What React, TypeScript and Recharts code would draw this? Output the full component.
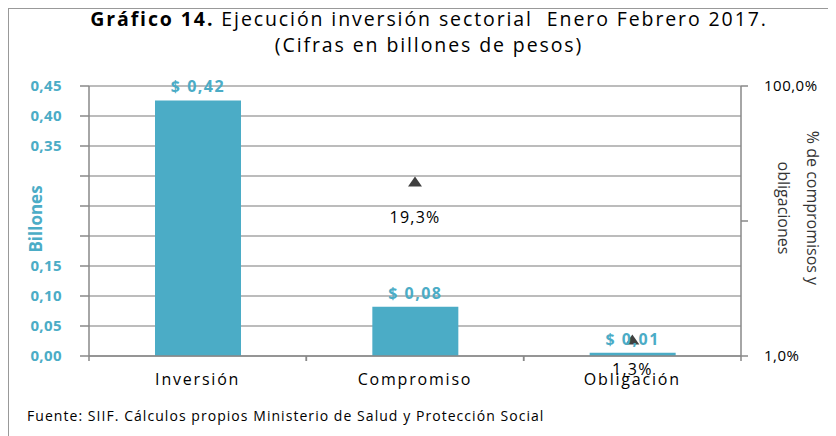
import React from "react";
import {
  ComposedChart,
  Bar,
  Line,
  XAxis,
  YAxis,
  CartesianGrid,
  LabelList,
} from "recharts";

const categories = ["Inversión", "Compromiso", "Obligación"];
const billones = [0.426, 0.082, 0.0055];
const billonesLabels = ["$ 0,42", "$ 0,08", "$ 0,01"];
const porcentajes: (number | null)[] = [null, 19.3, 1.3];
const porcentajeLabels = ["", "19,3%", "1,3%"];
const leftTicks = [0, 0.05, 0.1, 0.15, 0.2, 0.25, 0.3, 0.35, 0.4, 0.45];
const leftHiddenLabels = [0.2, 0.25, 0.3];
const rightTicks = [1, 10, 100];
const rightTickLabels: Record<number, string> = { 1: "1,0%", 10: "", 100: "100,0%" };

const data = categories.map((c, i) => ({
  name: c,
  valor: billones[i],
  valorLabel: billonesLabels[i],
  pct: porcentajes[i],
  pctLabel: porcentajeLabels[i],
}));

// label offsets below the triangle markers (styling, per category)
const PCT_LABEL_DY = [0, 41, 34];

const AQUA = "#4BACC6";
const FONT = "'Open Sans', 'DejaVu Sans', sans-serif";
const CHART_W = 828;
const CHART_H = 428;
const PLOT_LEFT = 80;
const PLOT_RIGHT = 732;
const BAND = (PLOT_RIGHT - PLOT_LEFT) / categories.length;

const fmtLeft = (v: number) => v.toFixed(2).replace(".", ",");

const LeftTick = (props: any) => {
  const { x, y, payload } = props;
  const v = payload.value;
  if (leftHiddenLabels.some((h) => Math.abs(h - v) < 1e-6)) return <g />;
  return (
    <text
      x={x - 16}
      y={y}
      dy={5}
      textAnchor="end"
      fill={AQUA}
      fontSize={15}
      fontWeight="bold"
      letterSpacing={0.4}
      fontFamily={FONT}
    >
      {fmtLeft(v)}
    </text>
  );
};

const RightTick = (props: any) => {
  const { x, y, payload } = props;
  const label = rightTickLabels[payload.value] ?? "";
  return (
    <text x={x + 14} y={y} dy={5} textAnchor="start" fill="#000" fontSize={15} letterSpacing={0.5} fontFamily={FONT}>
      {label}
    </text>
  );
};

const XTick = (props: any) => {
  const { x, y, payload } = props;
  return (
    <g>
      <line x1={x - BAND / 2} x2={x - BAND / 2} y1={y - 8} y2={y - 3} stroke="#888" strokeWidth={1.5} />
      <line x1={x + BAND / 2} x2={x + BAND / 2} y1={y - 8} y2={y - 3} stroke="#888" strokeWidth={1.5} />
      <text
        x={x}
        y={y}
        dy={21}
        textAnchor="middle"
        fill="#000"
        fontSize={16}
        letterSpacing={1.8}
        fontFamily={FONT}
      >
        {payload.value}
      </text>
    </g>
  );
};

const Triangle = (props: any) => {
  const { cx, cy, payload } = props;
  if (payload == null || payload.pct == null || cx == null || cy == null) return <g key={props.key} />;
  return (
    <path
      key={props.key}
      d={`M${cx},${cy - 6} L${cx + 7},${cy + 4} L${cx - 7},${cy + 4} Z`}
      fill="#404040"
    />
  );
};

const PctLabel = (props: any) => {
  const { x, y, value, index } = props;
  if (!value || x == null || y == null) return null;
  const dy = PCT_LABEL_DY[index] ?? 38;
  return (
    <text x={x} y={y + dy} textAnchor="middle" fill="#000" fontSize={16} fontFamily={FONT} letterSpacing={1.2}>
      {value}
    </text>
  );
};

export default function App() {
  return (
    <div
      style={{
        position: "relative",
        width: CHART_W,
        height: CHART_H,
        borderTop: "1.5px solid #999",
        borderLeft: "1.5px solid #999",
        boxSizing: "border-box",
        fontFamily: FONT,
        background: "#fff",
      }}
    >
      <div
        style={{
          position: "absolute",
          left: 0,
          top: -3,
          width: 840,
          textAlign: "center",
          fontSize: 19.5,
          lineHeight: "26px",
          letterSpacing: 1.9,
          color: "#000",
        }}
      >
        <div>
          <b>Gráfico 14.</b> Ejecución inversión sectorial&nbsp; Enero Febrero 2017.
        </div>
        <div>(Cifras en billones de pesos)</div>
      </div>
      <div style={{ position: "absolute", left: 0, top: 0 }}>
        <ComposedChart
          width={CHART_W}
          height={CHART_H}
          data={data}
          margin={{ top: 77, right: 0, bottom: 51, left: 0 }}
        >
          <CartesianGrid vertical={false} stroke="#a6a6a6" strokeWidth={1.5} yAxisId="left" />
          <XAxis
            dataKey="name"
            xAxisId={0}
            height={30}
            axisLine={{ stroke: "#888", strokeWidth: 1.5 }}
            tickLine={false}
            tick={<XTick />}
            interval={0}
          />
          <YAxis
            yAxisId="left"
            orientation="left"
            width={80}
            domain={[0, 0.45]}
            ticks={leftTicks}
            interval={0}
            tickSize={9}
            axisLine={{ stroke: "#888", strokeWidth: 1.5 }}
            tickLine={{ stroke: "#888", strokeWidth: 1.5 }}
            tick={<LeftTick />}
            label={{
              value: "Billones",
              angle: -90,
              position: "insideLeft",
              dx: 22,
              dy: -2,
              fill: AQUA,
              fontSize: 17,
              fontWeight: "bold",
              fontFamily: FONT,
              style: { textAnchor: "middle" },
            }}
          />
          <YAxis
            yAxisId="right"
            orientation="right"
            width={96}
            scale="log"
            domain={[1, 100]}
            ticks={rightTicks}
            interval={0}
            allowDataOverflow
            tickSize={7}
            axisLine={{ stroke: "#888", strokeWidth: 1.5 }}
            tickLine={{ stroke: "#888", strokeWidth: 1.5 }}
            tick={<RightTick />}
          />
          <Bar
            dataKey="valor"
            yAxisId="left"
            fill={AQUA}
            barSize={86}
            isAnimationActive={false}
          >
            <LabelList
              dataKey="valorLabel"
              position="top"
              offset={8}
              fill={AQUA}
              fontSize={16}
              fontWeight="bold"
              letterSpacing={1.5}
              fontFamily={FONT}
            />
          </Bar>
          <Line
            dataKey="pct"
            yAxisId="right"
            stroke="none"
            dot={<Triangle />}
            activeDot={false}
            connectNulls={false}
            isAnimationActive={false}
          >
            <LabelList dataKey="pctLabel" content={<PctLabel />} />
          </Line>
        </ComposedChart>
      </div>
      <div
        style={{
          position: "absolute",
          left: 747,
          top: 199,
          width: 0,
          height: 0,
        }}
      >
        <div
          style={{
            position: "absolute",
            transform: "translate(-50%, -50%) rotate(90deg)",
            whiteSpace: "nowrap",
            textAlign: "center",
            fontSize: 16,
            lineHeight: "29px",
            color: "#333",
            left: 42,
            top: 0,
          }}
        >
          <div>% de compromisos y</div>
          <div>obligaciones</div>
        </div>
      </div>
      <div
        style={{
          position: "absolute",
          left: 18,
          top: 397,
          fontSize: 14,
          letterSpacing: 1.05,
          color: "#000",
          whiteSpace: "nowrap",
        }}
      >
        Fuente: SIIF. Cálculos propios Ministerio de Salud y Protección Social
      </div>
    </div>
  );
}
